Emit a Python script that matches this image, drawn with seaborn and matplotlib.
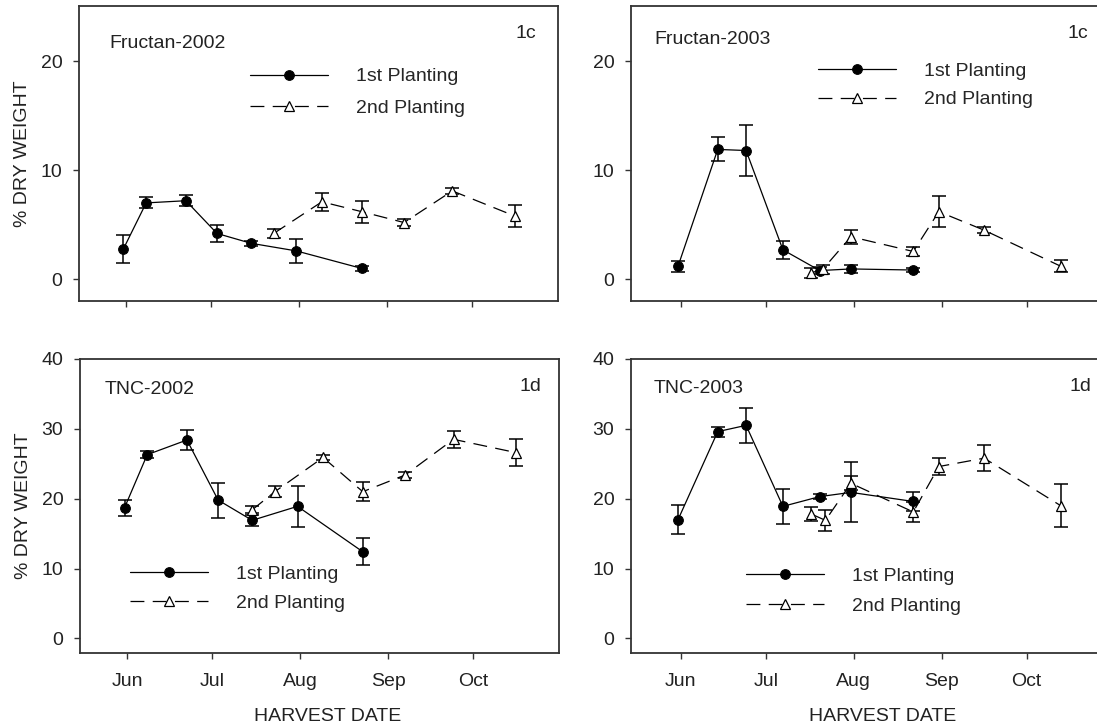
import matplotlib
matplotlib.use("Agg")
import matplotlib.pyplot as plt
import seaborn as sns
import pandas as pd

# ---------------- data (day of year) ----------------
month_ticks = [152, 182, 213, 244, 274]
month_labels = ["Jun", "Jul", "Aug", "Sep", "Oct"]

# Fructan-2002
f02_p1_day = [151, 159, 173, 184, 196, 212, 235]
f02_p1_val = [2.8, 7.0, 7.2, 4.2, 3.3, 2.6, 1.0]
f02_p1_err = [1.3, 0.5, 0.5, 0.75, 0.25, 1.1, 0.2]
f02_p2_day = [204, 221, 235, 250, 267, 289]
f02_p2_val = [4.2, 7.1, 6.2, 5.2, 8.1, 5.8]
f02_p2_err = [0.4, 0.8, 1.0, 0.3, 0.3, 1.0]

# Fructan-2003
f03_p1_day = [151, 165, 175, 188, 201, 212, 234]
f03_p1_val = [1.2, 11.9, 11.8, 2.7, 0.8, 0.95, 0.85]
f03_p1_err = [0.5, 1.1, 2.3, 0.85, 0.3, 0.4, 0.2]
f03_p2_day = [198, 202, 212, 234, 243, 259, 286]
f03_p2_val = [0.6, 0.9, 3.9, 2.55, 6.2, 4.5, 1.2]
f03_p2_err = [0.45, 0.45, 0.65, 0.45, 1.45, 0.25, 0.55]

# TNC-2002
t02_p1_day = [151, 159, 173, 184, 196, 212, 235]
t02_p1_val = [18.7, 26.3, 28.4, 19.8, 16.9, 18.9, 12.4]
t02_p1_err = [1.15, 0.5, 1.5, 2.5, 0.8, 2.9, 1.95]
t02_p2_day = [196, 204, 221, 235, 250, 267, 289]
t02_p2_val = [18.4, 21.0, 25.9, 21.0, 23.4, 28.5, 26.6]
t02_p2_err = [0.5, 0.8, 0.3, 1.4, 0.4, 1.2, 1.9]

# TNC-2003
t03_p1_day = [151, 165, 175, 188, 201, 212, 234]
t03_p1_val = [17.0, 29.6, 30.5, 18.9, 20.3, 20.9, 19.6]
t03_p1_err = [2.1, 0.7, 2.5, 2.5, 0.3, 4.3, 1.4]
t03_p2_day = [198, 203, 212, 234, 243, 259, 286]
t03_p2_val = [17.8, 16.9, 22.2, 18.1, 24.6, 25.8, 19.0]
t03_p2_err = [1.0, 1.5, 1.0, 1.4, 1.25, 1.85, 3.1]

series_labels = ["1st Planting", "2nd Planting"]

# ---------------- style ----------------
sns.set_theme(style="ticks")
plt.rcParams["font.family"] = ["Liberation Sans", "DejaVu Sans"]
plt.rcParams["lines.scale_dashes"] = False
FS = 14
TXT = "#222222"

fig = plt.figure(figsize=(10.97, 7.27), dpi=100)
W, H = 1097.0, 727.0


def axes_px(x0, y0, x1, y1):
    return fig.add_axes([x0 / W, 1 - y1 / H, (x1 - x0) / W, (y1 - y0) / H])


panels = [
    dict(box=(79, 6, 558, 300.7), xlim=(135.3, 304.3), ylim=(-1.96, 25.04), yt=[0, 10, 20],
         p1=(f02_p1_day, f02_p1_val, f02_p1_err), p2=(f02_p2_day, f02_p2_val, f02_p2_err),
         title="Fructan-2002", tag="1c", tpos=(0.0626, 0.874), tagpos=(0.933, 0.905),
         leg=(0.357, 0.79), lspace=0.70, xlabel=False, ylabel=True),
    dict(box=(631, 6, 1110, 300.7), xlim=(134.4, 303.4), ylim=(-1.96, 25.04), yt=[0, 10, 20],
         p1=(f03_p1_day, f03_p1_val, f03_p1_err), p2=(f03_p2_day, f03_p2_val, f03_p2_err),
         title="Fructan-2003", tag="1c", tpos=(0.049, 0.885), tagpos=(0.932, 0.905),
         leg=(0.390, 0.808), lspace=0.55, xlabel=False, ylabel=False),
    dict(box=(80, 359, 559.3, 653.3), xlim=(135.3, 304.3), ylim=(-2.14, 40), yt=[0, 10, 20, 30, 40],
         p1=(t02_p1_day, t02_p1_val, t02_p1_err), p2=(t02_p2_day, t02_p2_val, t02_p2_err),
         title="TNC-2002", tag="1d", tpos=(0.0515, 0.895), tagpos=(0.939, 0.905),
         leg=(0.104, 0.300), lspace=0.60, xlabel=True, ylabel=True, xlx=0.517),
    dict(box=(631, 359, 1110, 653.3), xlim=(134.4, 303.4), ylim=(-2.14, 40), yt=[0, 10, 20, 30, 40],
         p1=(t03_p1_day, t03_p1_val, t03_p1_err), p2=(t03_p2_day, t03_p2_val, t03_p2_err),
         title="TNC-2003", tag="1d", tpos=(0.0468, 0.901), tagpos=(0.939, 0.905),
         leg=(0.241, 0.293), lspace=0.65, xlabel=True, ylabel=False, xlx=0.525),
]

for p in panels:
    ax = axes_px(*p["box"])
    d1, v1, e1 = p["p1"]
    d2, v2, e2 = p["p2"]
    df1 = pd.DataFrame({"day": d1, "val": v1})
    df2 = pd.DataFrame({"day": d2, "val": v2})

    # error bars
    ax.errorbar(d1, v1, yerr=e1, fmt="none", ecolor="black", elinewidth=1.1,
                capsize=5, capthick=1.1, zorder=2)
    ax.errorbar(d2, v2, yerr=e2, fmt="none", ecolor="black", elinewidth=1.1,
                capsize=5, capthick=1.1, zorder=2)

    sns.lineplot(data=df1, x="day", y="val", ax=ax, color="black", linewidth=0.9,
                 marker="o", markersize=7, markerfacecolor="black",
                 markeredgecolor="black", errorbar=None, label=series_labels[0],
                 zorder=3)
    sns.lineplot(data=df2, x="day", y="val", ax=ax, color="black", linewidth=0.9,
                 linestyle=(0, (10, 6)), marker="^", markersize=7.5,
                 markerfacecolor="white", markeredgecolor="black",
                 markeredgewidth=0.9, errorbar=None, label=series_labels[1],
                 zorder=4)

    ax.set_xlim(*p["xlim"])
    ax.set_ylim(*p["ylim"])
    ax.set_xticks(month_ticks)
    ax.set_yticks(p["yt"])
    if p["xlabel"]:
        ax.set_xticklabels(month_labels)
        ax.set_xlabel("HARVEST DATE", fontsize=FS, color=TXT)
        ax.xaxis.set_label_coords(p["xlx"], -0.215)
        ax.xaxis.label.set_va("center")
    else:
        ax.set_xticklabels([])
        ax.set_xlabel("")
    if p["ylabel"]:
        ax.set_ylabel("% DRY WEIGHT", fontsize=FS, color=TXT)
        ax.yaxis.set_label_coords(-0.117, 0.5)
        ax.yaxis.label.set_va("center")
    else:
        ax.set_ylabel("")

    ax.tick_params(axis="both", direction="out", length=4, width=1.0,
                   labelsize=FS, colors="#333333", labelcolor=TXT)
    ax.tick_params(axis="x", pad=10)
    ax.tick_params(axis="y", pad=8)
    for s in ax.spines.values():
        s.set_visible(True)
        s.set_linewidth(1.3)
        s.set_color("#333333")

    ax.text(p["tpos"][0], p["tpos"][1], p["title"], transform=ax.transAxes,
            fontsize=FS, color=TXT, ha="left", va="center")
    ax.text(p["tagpos"][0], p["tagpos"][1], p["tag"], transform=ax.transAxes,
            fontsize=FS, color=TXT, ha="center", va="center")

    handles, labels = ax.get_legend_handles_labels()
    ax.legend(handles, labels, loc="upper left", bbox_to_anchor=p["leg"],
              frameon=False, fontsize=FS, handlelength=4.0, handletextpad=1.45,
              borderpad=0, borderaxespad=0, labelspacing=p["lspace"])

fig.savefig("out.png", dpi=100)
